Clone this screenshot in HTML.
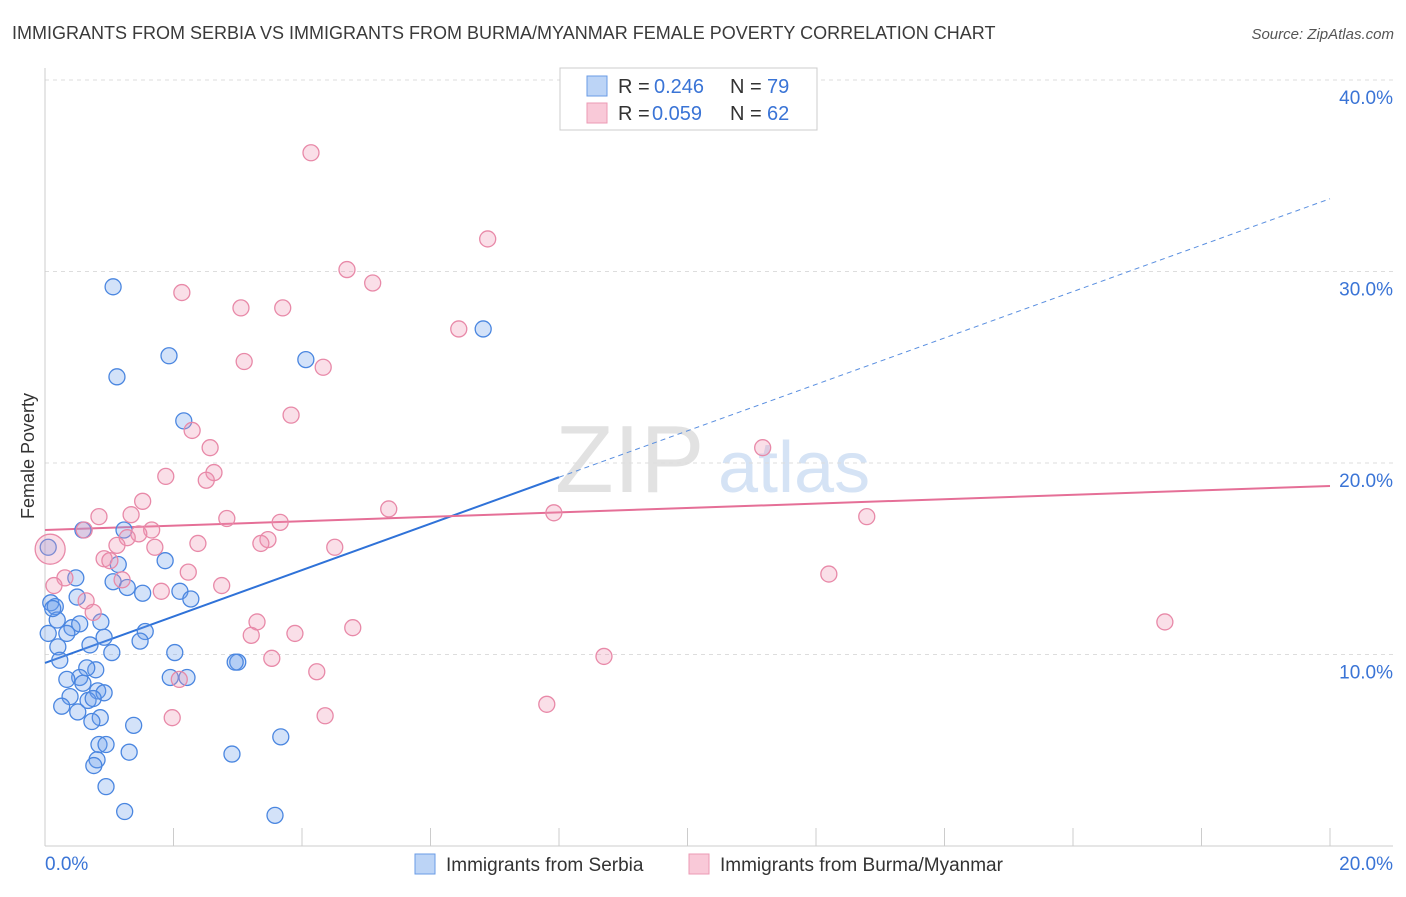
<!DOCTYPE html>
<html><head><meta charset="utf-8"><style>
body{margin:0;background:#fff;font-family:"Liberation Sans",sans-serif;}
svg text{font-family:"Liberation Sans",sans-serif;}
</style></head><body>
<svg id="chart" width="1406" height="892" xmlns="http://www.w3.org/2000/svg">
<text x="12" y="39" font-size="18" fill="#3a3a3a">IMMIGRANTS FROM SERBIA VS IMMIGRANTS FROM BURMA/MYANMAR FEMALE POVERTY CORRELATION CHART</text>
<text x="1394" y="39" font-size="15" fill="#555" text-anchor="end" font-style="italic">Source: ZipAtlas.com</text>
<g>
<text x="555" y="492" font-size="96" fill="#e2e2e2" font-family="Liberation Serif">ZIP</text>
<text x="718" y="492" font-size="72" fill="#d5e3f5">atlas</text>
</g>
<text transform="translate(34,456) rotate(-90)" font-size="18" fill="#333" text-anchor="middle">Female Poverty</text>
<g id="grid"></g><g id="axes"></g><g id="lines"></g><g id="pts"></g>
<g>
<rect x="560" y="68" width="257" height="62" fill="#fff" stroke="#ccc"/>
<rect x="587" y="76" width="20" height="20" fill="#bcd4f6" stroke="#6a9be6"/>
<rect x="587" y="103" width="20" height="20" fill="#f9c9d8" stroke="#ec9ab4"/>
<text x="618" y="93" font-size="20" fill="#333">R = </text><text x="654" y="93" font-size="20" fill="#3a74d6">0.246</text>
<text x="730" y="93" font-size="20" fill="#333">N = </text><text x="767" y="93" font-size="20" fill="#3a74d6">79</text>
<text x="618" y="120" font-size="20" fill="#333">R = </text><text x="652" y="120" font-size="20" fill="#3a74d6">0.059</text>
<text x="730" y="120" font-size="20" fill="#333">N = </text><text x="767" y="120" font-size="20" fill="#3a74d6">62</text>
</g>
<g>
<rect x="415" y="854" width="20" height="20" fill="#bcd4f6" stroke="#6a9be6"/>
<text x="446" y="871" font-size="19" fill="#333">Immigrants from Serbia</text>
<rect x="689" y="854" width="20" height="20" fill="#f9c9d8" stroke="#ec9ab4"/>
<text x="720" y="871" font-size="19" fill="#333">Immigrants from Burma/Myanmar</text>
</g>
</svg>
<script>
const yTicks=[10,20,30,40];
const xTickLabels=["0.0%","20.0%"];
const serbiaX=[1.06,1.12,1.93,2.16,4.06,6.82,1.23,0.59,0.05,1.87,1.14,1.06,1.28,0.48,1.52,2.10,2.27,0.09,0.16,0.50,0.19,0.42,0.54,0.87,0.34,0.92,1.56,0.70,1.48,0.20,1.04,0.23,2.02,3.00,2.96,0.79,0.65,0.54,0.34,0.59,1.95,2.21,0.82,0.92,0.39,0.67,0.75,0.26,0.51,0.86,0.73,1.38,3.67,0.84,0.95,1.31,2.91,0.81,0.76,0.95,1.24,3.58,0.05,0.12];
const serbiaY=[29.2,24.5,25.6,22.2,25.4,27.0,16.5,16.5,15.6,14.9,14.7,13.8,13.5,14.0,13.2,13.3,12.9,12.7,12.5,13.0,11.8,11.4,11.6,11.7,11.1,10.9,11.2,10.5,10.7,10.4,10.1,9.7,10.1,9.6,9.6,9.2,9.3,8.8,8.7,8.5,8.8,8.8,8.1,8.0,7.8,7.6,7.7,7.3,7.0,6.7,6.5,6.3,5.7,5.3,5.3,4.9,4.8,4.5,4.2,3.1,1.8,1.6,11.1,12.4];
const burmaX=[4.14,6.89,4.70,5.10,2.13,3.05,3.70,6.44,3.10,4.33,3.83,2.29,2.57,11.17,1.88,2.63,2.51,1.52,5.35,7.92,12.79,0.84,1.34,2.83,3.66,1.66,0.61,1.46,1.28,3.47,3.36,2.38,1.12,1.71,4.51,0.08,0.92,1.01,2.23,12.20,0.31,1.20,0.14,2.75,1.81,0.64,0.75,3.30,17.43,4.79,3.89,3.21,8.70,3.53,4.23,2.09,7.81,1.98,4.36];
const burmaY=[36.2,31.7,30.1,29.4,28.9,28.1,28.1,27.0,25.3,25.0,22.5,21.7,20.8,20.8,19.3,19.5,19.1,18.0,17.6,17.4,17.2,17.2,17.3,17.1,16.9,16.5,16.5,16.3,16.1,16.0,15.8,15.8,15.7,15.6,15.6,15.5,15.0,14.9,14.3,14.2,14.0,13.9,13.6,13.6,13.3,12.8,12.2,11.7,11.7,11.4,11.1,11.0,9.9,9.8,9.1,8.7,7.4,6.7,6.8];
const serbiaFit=[9.56,33.8];   // y at x=0, y at x=20
const burmaFit=[16.5,18.8];   // y at x=0, y at x=20
const X=v=>45+v/20*1285, Y=v=>846-v*19.15;
const NS="http://www.w3.org/2000/svg";
function mk(tag,attrs,parent){const e=document.createElementNS(NS,tag);for(const k in attrs)e.setAttribute(k,attrs[k]);document.getElementById(parent).appendChild(e);return e;}
yTicks.forEach(t=>{
 const l=mk('line',{x1:45,x2:1393,y1:Y(t),y2:Y(t),stroke:'#ddd','stroke-dasharray':'4,4'},'grid');
 
 
 const tx=mk('text',{x:1393,y:Y(t)+24,'font-size':19,fill:'#3a74d6','text-anchor':'end'},'grid');tx.textContent=t.toFixed(1)+'%';
 
 
});
mk('line',{x1:45,x2:45,y1:68,y2:846,stroke:'#ccc'},'axes');
mk('line',{x1:45,x2:1393,y1:846,y2:846,stroke:'#ccc'},'axes');
for(let i=0;i<=10;i++){mk('line',{x1:X(i*2),x2:X(i*2),y1:846,y2:828,stroke:'#ccc'},'axes');}
[[0,45,'start'],[1,1393,'end']].forEach(([i,x,a])=>{const t=mk('text',{x:x,y:870,'font-size':19,fill:'#3a74d6','text-anchor':a},'axes');t.textContent=xTickLabels[i];
 
 });
const bY0=serbiaFit[0], bSlope=(serbiaFit[1]-bY0)/20;
const bl=mk('line',{x1:X(0),y1:Y(bY0),x2:X(8),y2:Y(bY0+bSlope*8),stroke:'#2f72d8','stroke-width':2},'lines');


const bd=mk('line',{x1:X(8),y1:Y(bY0+bSlope*8),x2:X(20),y2:Y(bY0+bSlope*20),stroke:'#5a8fe0','stroke-width':1,'stroke-dasharray':'5,4'},'lines');


const pl=mk('line',{x1:X(0),y1:Y(burmaFit[0]),x2:X(20),y2:Y(burmaFit[1]),stroke:'#e56f97','stroke-width':2},'lines');


serbiaX.forEach((x,i)=>{const c=mk('circle',{cx:X(x),cy:Y(serbiaY[i]),r:8,fill:'rgba(110,160,235,0.3)',stroke:'#4a86e0','stroke-width':1.3},'pts');
 
 });
burmaX.forEach((x,i)=>{const c=mk('circle',{cx:X(x),cy:Y(burmaY[i]),r:i==35?15:8,fill:'rgba(240,150,180,0.3)',stroke:'#e889a8','stroke-width':1.3},'pts');
 
 });
</script>
</body></html>
